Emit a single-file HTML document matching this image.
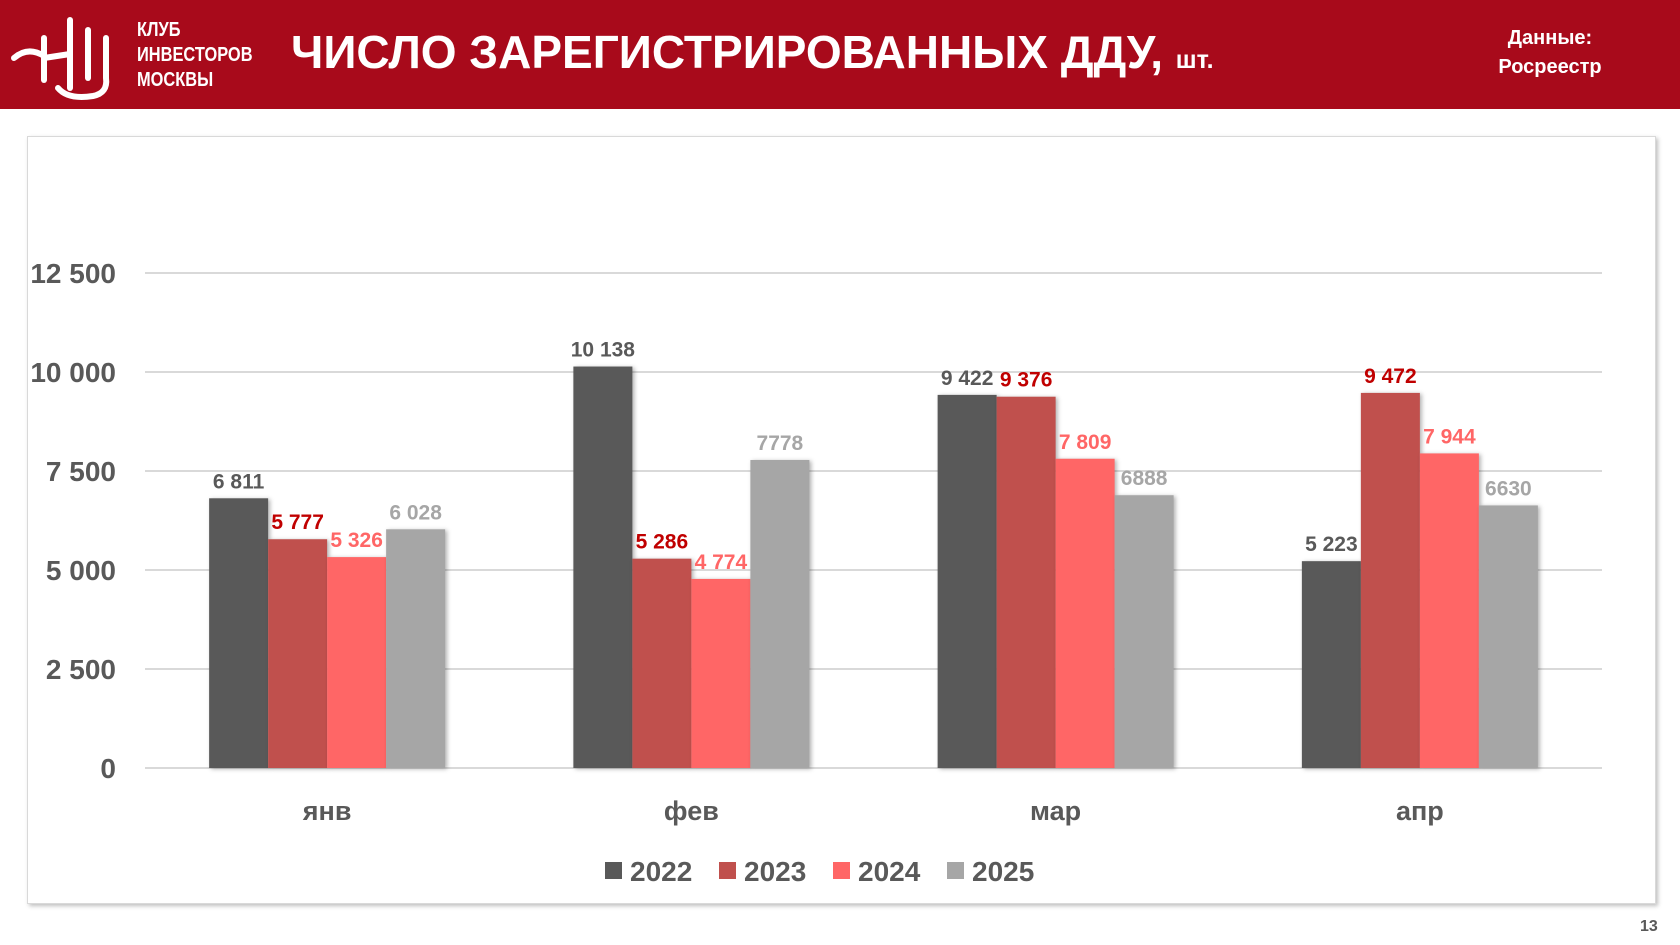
<!DOCTYPE html>
<html><head><meta charset="utf-8"><style>
body{margin:0;width:1680px;height:945px;background:#fff;font-family:"Liberation Sans","DejaVu Sans",sans-serif;position:relative;overflow:hidden}
.hdr{position:absolute;left:0;top:0;width:1680px;height:109px;background:#a80a1b}
.abs{position:absolute;white-space:nowrap}
</style></head><body>
<div class="hdr"></div>
<svg class="abs" style="left:8px;top:8px" width="120" height="96">
<g fill="none" stroke="#fff" stroke-width="6" stroke-linecap="round">
<path d="M36 30 V72"/><path d="M62 12 V80"/><path d="M80 22 V70"/><path d="M98 30 V70 Q100 85 85 88 Q60 92 50 80"/>
<path d="M6 50 Q20 38 36 48"/><path d="M36 50 L62 46"/></g></svg>
<div class="abs" style="left:137px;top:18px;color:#fff;font-size:20px;line-height:25px;font-weight:bold;transform:scaleX(0.82);transform-origin:left top">КЛУБ<br>ИНВЕСТОРОВ<br>МОСКВЫ</div>
<div class="abs" style="left:291px;top:25px;color:#fff;font-size:46px;font-weight:bold">ЧИСЛО ЗАРЕГИСТРИРОВАННЫХ ДДУ, <span style="font-size:25px">шт.</span></div>
<div class="abs" style="left:1470px;top:24px;width:160px;text-align:center;color:#fff;font-size:20px;font-weight:bold;line-height:29px">Данные:<br>Росреестр</div>
<div class="abs" style="left:27px;top:136px;width:1627px;height:766px;border:1px solid #d9d9d9;box-shadow:2px 2px 4px rgba(0,0,0,.25)"></div>
<div class="abs" style="left:1640px;top:918px;font-size:16px;color:#595959;font-weight:bold">13</div>
<svg id="chart" class="abs" style="left:0;top:0" width="1680" height="945"></svg>
<script>
const categories=["янв","фев","мар","апр"];
const series=["2022","2023","2024","2025"];
const v2022=[6811,10138,9422,5223];
const v2023=[5777,5286,9376,9472];
const v2024=[5326,4774,7809,7944];
const v2025=[6028,7778,6888,6630];
const labels2022=["6 811","10 138","9 422","5 223"];
const labels2023=["5 777","5 286","9 376","9 472"];
const labels2024=["5 326","4 774","7 809","7 944"];
const labels2025=["6 028","7778","6888","6630"];
const ticks=[0,2500,5000,7500,10000,12500];
const tickLabels=["0","2 500","5 000","7 500","10 000","12 500"];
const barColors=["#595959","#c0504d","#ff6666","#a6a6a6"];
const labelColors=["#595959","#c00000","#ff6666","#a6a6a6"];
const NS="http://www.w3.org/2000/svg",svg=document.getElementById('chart');
const X0=145,X1=1602,Y0=768,Y1=273,band=(X1-X0)/4,bw=59;
const y=v=>Y0-(v/12500)*(Y0-Y1);
function mk(t,a,txt){const e=document.createElementNS(NS,t);for(const k in a)e.setAttribute(k,a[k]);if(txt!=null)e.textContent=txt;svg.appendChild(e);return e;}
ticks.forEach((t,i)=>{
 const l=mk('line',{x1:X0,x2:X1,y1:y(t),y2:y(t),stroke:'#d9d9d9','stroke-width':2});
 
 
 const tx=mk('text',{x:116,y:y(t)+10,'text-anchor':'end','font-size':28,'font-weight':'bold',fill:'#595959'},tickLabels[i]);
 
 
});
const vals=[v2022,v2023,v2024,v2025],labs=[labels2022,labels2023,labels2024,labels2025];
categories.forEach((c,ci)=>{
 const cx=X0+band*(ci+0.5),gx=cx-2*bw;
 vals.forEach((s,si)=>{
  const x=gx+si*bw;
  const r=mk('rect',{x:x,y:y(s[ci]),width:bw,height:Y0-y(s[ci]),fill:barColors[si],style:'filter:drop-shadow(2px 1px 2px rgba(0,0,0,.3))'});
  
  
  const t=mk('text',{x:x+bw/2,y:y(s[ci])-10,'text-anchor':'middle','font-size':21,'font-weight':'bold',fill:labelColors[si]},labs[si][ci]);
  
  
 });
 const ct=mk('text',{x:cx,y:820,'text-anchor':'middle','font-size':27,'font-weight':'bold',fill:'#595959'},c);
 
 
});
const lx=[605,719,833,947];
series.forEach((s,i)=>{
 const r=mk('rect',{x:lx[i],y:862,width:17,height:17,fill:barColors[i]});
 
 
 const t=mk('text',{x:lx[i]+25,y:881,'font-size':28,'font-weight':'bold',fill:'#595959'},s);
 
 
});
</script>
</body></html>
